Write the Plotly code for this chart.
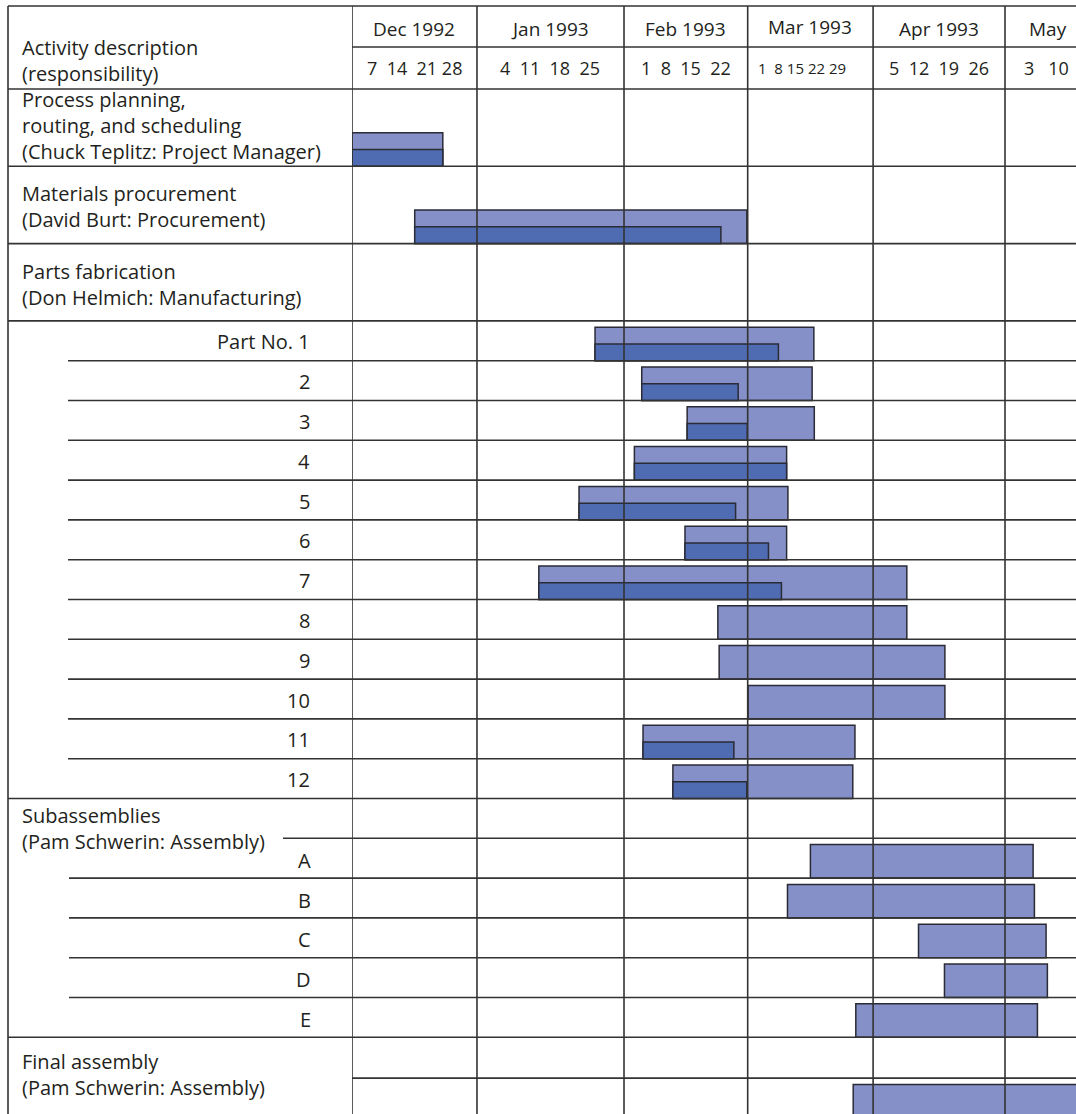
import plotly.graph_objects as go

# ---------------------------------------------------------------------------
# Schedule data (timeline unit: days on the chart scale, 0 = start of Dec 1992)
# ---------------------------------------------------------------------------
months = ["Dec 1992", "Jan 1993", "Feb 1993", "Mar 1993", "Apr 1993", "May"]
week_labels = ["7  14  21 28", "4  11  18  25", "1  8  15  22",
               "1  8 15 22 29", "5  12  19  26", "3   10"]
month_edges = [0.0, 28.9, 62.9, 91.5, 120.5, 151.0, 180.0]

# Bar rows, in table order
bar_rows = ["Process planning", "Materials procurement",
            "1", "2", "3", "4", "5", "6", "7", "8", "9", "10", "11", "12",
            "A", "B", "C", "D", "E", "Final assembly"]
sched_start = [0.0, 14.5,
               56.2, 67.0, 77.5, 65.3, 52.5, 77.0, 43.2, 84.6, 84.9, 91.6, 67.3, 74.2,
               106.0, 100.7, 131.0, 137.0, 116.5, 115.9]
sched_end = [21.0, 91.3,
             106.8, 106.4, 106.9, 100.5, 100.8, 100.5, 128.3, 128.3, 137.1, 137.1, 116.3, 115.8,
             157.5, 157.8, 160.5, 160.8, 158.5, 185.0]
# progress completed so far (None = not started)
done_end = [21.0, 85.3,
            98.6, 89.3, 91.4, 100.5, 88.7, 96.3, 99.3, None, None, None, 88.3, 91.3,
            None, None, None, None, None, None]

part_labels = ["Part No. 1", "2", "3", "4", "5", "6", "7", "8", "9", "10", "11", "12"]
sub_labels = ["A", "B", "C", "D", "E"]

# ---------------------------------------------------------------------------
# Page layout (pixels; the y axis runs top-down in pixel units)
# ---------------------------------------------------------------------------
W, H = 1076, 1114
LEFT_X, COL_X, TEXT_X = 8, 352, 20
TOP_Y, MONTH_SEP_Y, HEAD_BOTTOM = 6, 47, 89
GROUP_H, SUB_H, BAR_H = 77.3, 39.8, 33.5
PX_PER_DAY = 4.3245
X_MAX = (W - COL_X) / PX_PER_DAY

FONT = "Open Sans"
SIZE = 20
TXT = "#231f20"
LINE = "#333333"
LIGHT = "#8490c7"
DARK = "#4f6cb2"
EDGE = "#2b2b36"


def px(x):
    return x / W


shapes = []
annotations = []


def hline(y, x0_px, width=1.6):
    shapes.append(dict(type="line", xref="paper", yref="y", x0=px(x0_px), x1=1,
                       y0=y, y1=y, line=dict(color=LINE, width=width), layer="above"))


def text(lines, x_px, y, anchor="left", size=SIZE):
    annotations.append(dict(text="<br>".join(lines), xref="paper", yref="y",
                            x=px(x_px), y=y, xanchor=anchor, yanchor="middle",
                            align=anchor, showarrow=False,
                            font=dict(family=FONT, size=size, color=TXT)))


# rows: build table structure and remember where each bar sits
bar_bottom = {}
y = HEAD_BOTTOM

groups = [
    (["Process planning,", "routing, and scheduling", "(Chuck Teplitz: Project Manager)"],
     36.5, "Process planning"),
    (["Materials procurement", "(David Burt: Procurement)"], 40.3, "Materials procurement"),
    (["Parts fabrication", "(Don Helmich: Manufacturing)"], 40.8, None),
]
for lines, mid, key in groups:
    text(lines, TEXT_X, y + mid)
    y += GROUP_H
    if key:
        bar_bottom[key] = y
    hline(y, LEFT_X)

for i, lab in enumerate(part_labels):
    text([lab], 312, y + SUB_H / 2 + 1, anchor="right")
    y += SUB_H
    bar_bottom[str(i + 1)] = y
    hline(y, LEFT_X if i == len(part_labels) - 1 else 68)

text(["Subassemblies", "(Pam Schwerin: Assembly)"], TEXT_X, y + 29.5)
y += SUB_H
hline(y, 283)
for i, lab in enumerate(sub_labels):
    text([lab], 313, y + SUB_H / 2 + 2, anchor="right")
    y += SUB_H
    bar_bottom[lab] = y
    hline(y, LEFT_X if i == len(sub_labels) - 1 else 69)

text(["Final assembly", "(Pam Schwerin: Assembly)"], TEXT_X, y + 37)
y += SUB_H + 1
hline(y, COL_X)
bar_bottom["Final assembly"] = y + SUB_H

# header
hline(TOP_Y, LEFT_X)
hline(MONTH_SEP_Y, COL_X)
hline(HEAD_BOTTOM, LEFT_X)
text(["Activity description", "(responsibility)"], TEXT_X, 60)

# vertical rules
shapes.append(dict(type="line", xref="paper", yref="y", x0=px(LEFT_X), x1=px(LEFT_X),
                   y0=TOP_Y, y1=H, line=dict(color=LINE, width=1.6), layer="above"))
for e in month_edges[:-1]:
    shapes.append(dict(type="line", xref="x", yref="y", x0=e, x1=e, y0=TOP_Y, y1=H,
                       line=dict(color=LINE, width=1.6), layer="above"))

# month and week headings
for i, (m, wk) in enumerate(zip(months, week_labels)):
    a, b = month_edges[i], month_edges[i + 1]
    last = i == len(months) - 1
    anchor = "left" if last else "center"
    xm = a + 5 if last else (a + b) / 2
    xw = a + 4 if last else (a + b) / 2
    if m == "Mar 1993":
        xw -= 2
    annotations.append(dict(text=m, xref="x", yref="y", x=xm, y=29 if m != "Mar 1993" else 27,
                            xanchor=anchor, yanchor="middle", showarrow=False,
                            font=dict(family=FONT, size=19, color=TXT)))
    annotations.append(dict(text=wk, xref="x", yref="y", x=xw, y=68,
                            xanchor=anchor, yanchor="middle", showarrow=False,
                            font=dict(family=FONT, size=15 if m == "Mar 1993" else 18,
                                      color=TXT)))

# ---------------------------------------------------------------------------
# Bars
# ---------------------------------------------------------------------------
sched_y = [bar_bottom[k] - BAR_H / 2 for k in bar_rows]
sched_len = [e - s for s, e in zip(sched_start, sched_end)]

done_idx = [i for i, d in enumerate(done_end) if d is not None]
done_y = [bar_bottom[bar_rows[i]] - BAR_H / 4 for i in done_idx]
done_base = [sched_start[i] for i in done_idx]
done_len = [done_end[i] - sched_start[i] for i in done_idx]

fig = go.Figure()
fig.add_trace(go.Bar(orientation="h", y=sched_y, base=sched_start, x=sched_len,
                     width=BAR_H, marker=dict(color=LIGHT, line=dict(color=EDGE, width=1.5)),
                     hoverinfo="skip", showlegend=False))
fig.add_trace(go.Bar(orientation="h", y=done_y, base=done_base, x=done_len,
                     width=BAR_H / 2, marker=dict(color=DARK, line=dict(color=EDGE, width=1.5)),
                     hoverinfo="skip", showlegend=False))

fig.update_layout(
    width=W, height=H, autosize=False,
    margin=dict(l=0, r=0, t=0, b=0, pad=0),
    paper_bgcolor="white", plot_bgcolor="white",
    barmode="overlay",
    xaxis=dict(domain=[px(COL_X), 1], range=[0, X_MAX], visible=False, fixedrange=True),
    yaxis=dict(domain=[0, 1], range=[H, 0], visible=False, fixedrange=True),
    shapes=shapes, annotations=annotations,
    font=dict(family=FONT),
)

fig.write_html("out.html", config={"displayModeBar": False})
